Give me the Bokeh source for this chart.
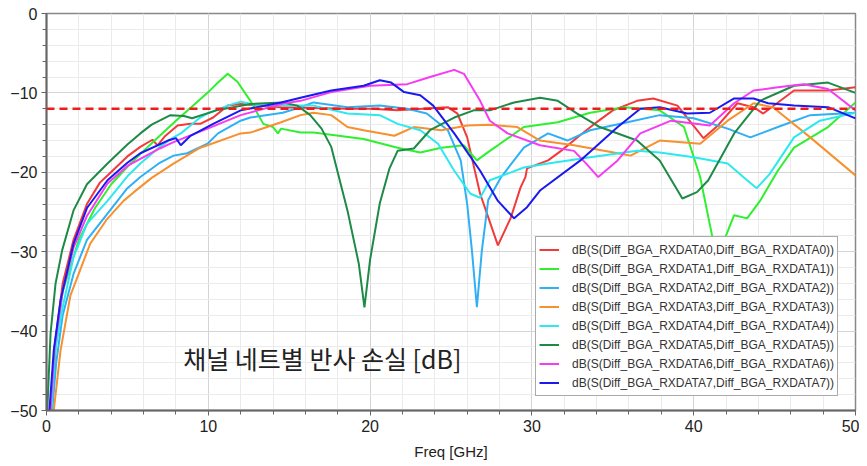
from bokeh.plotting import figure
from bokeh.models import Range1d, SingleIntervalTicker, Span, Label
from bokeh.embed import file_html
from bokeh.resources import INLINE

# ---------------- data ----------------
NAMES = [f"dB(S(Diff_BGA_RXDATA{i},Diff_BGA_RXDATA{i}))" for i in range(8)]
COLORS = ["#f23a3a", "#2ef02e", "#2fb0f5", "#f7902f", "#2be9ef", "#1e8a47", "#f53cf2", "#1a1af0"]

f0 = [0.3, 0.5, 1, 1.67, 2.5, 3.3, 3.77, 5, 5.8, 6.55, 6.86, 7.3, 8.1, 8.9, 9.5, 10.3, 11.2, 12, 14.5, 16.5,
      18.6, 20, 21.7, 24.8, 25.4, 26, 26.8, 27.9, 28.7, 29.3, 29.6, 29.7, 31, 31.8, 33, 33.8, 35, 36.5, 37.5, 39,
      40.6, 41.5, 42.7, 43.7, 44.3, 46.2, 48.3, 50]
s0 = [-50, -42, -34, -28.5, -24, -21.3, -20.4, -18, -16.8, -15.9, -16.6, -15.5, -14.1, -13.9, -13.9, -13.1, -11.6,
      -11.4, -11.8, -11.9, -12, -12, -12.2, -11.8, -12.6, -15.6, -22.7, -29.2, -25.7, -21.9, -20.6, -19.5, -18.5,
      -17.3, -15.3, -14, -12.2, -11, -10.7, -11.6, -15.7, -14.1, -11.3, -11.8, -12.6, -9.7, -9.7, -9.3]

f1 = [0.35, 0.6, 1, 2, 3, 4, 5, 6, 7, 8, 9, 10, 10.6, 11.2, 11.8, 12.6, 13.4, 14, 14.3, 14.5, 15.7, 16.5, 19.6,
      21.7, 23.1, 24.4, 25.8, 26.6, 27.4, 27.9, 29.5, 31.6, 33.6, 35.7, 37.9, 39.4, 40.4, 41.2, 41.6, 42.5, 43.3,
      44.1, 45.2, 46.2, 48.3, 50]
s1 = [-50, -41, -35, -28.5, -24.5, -21.5, -19.3, -17.3, -15.4, -13.5, -11.7, -9.9, -8.7, -7.6, -8.6, -11, -13.9,
      -14.3, -15.1, -14.5, -15, -15, -15.8, -16.9, -17.5, -16.9, -16.6, -18.5, -17.3, -16.6, -14.3, -13.7, -12.5,
      -11.8, -12.2, -14.3, -20.6, -28.6, -30, -25.4, -25.8, -23.6, -19.8, -16.9, -14.3, -11.2]

f2 = [0.35, 0.6, 1, 1.67, 2.5, 3.77, 5, 5.8, 7, 7.85, 8.7, 9.95, 10.6, 12, 12.6, 14.6, 15.7, 16.5, 18.6, 20.6,
      22.3, 23.5, 24.8, 25.6, 26, 26.3, 26.6, 26.9, 27.3, 28.1, 29.5, 31, 32.2, 33.6, 35.9, 37.9,
      40, 42.1, 43.5, 45.2, 47.2, 50]
s2 = [-50, -44, -38, -32.8, -28.5, -25.2, -22, -20.6, -18.8, -17.9, -17.6, -16.4, -15.1, -13.5, -13.1, -12.5,
      -11.8, -11.2, -11.8, -11.6, -12, -12.6, -14.7, -18.5, -24, -30, -37, -30, -23.5, -20.6, -16.9, -15.1, -16,
      -14.7, -13.7, -12.8, -13.2, -14.5, -15.6, -14.3, -12.8, -12.5]

f3 = [0.45, 0.87, 1.48, 2.7, 3.7, 4.76, 5.4, 6.5, 7.85, 9.5, 9.95, 12, 12.6, 14.5, 15.7, 16.5, 17.6, 18.6, 19.6,
      21.5, 22.7, 24.4, 26, 27.4, 29.1, 30.5, 32.6, 35.3, 36.1, 37.9, 40.4, 42.1, 43.7, 44.9, 47.2, 50]
s3 = [-50, -42.4, -35.5, -29, -26, -23.6, -22.5, -20.7, -18.9, -16.9, -16.6, -15.1, -15, -13.7, -12.8, -12.5,
      -12.8, -14.3, -14.7, -15.4, -14.3, -14.7, -14.1, -14, -14.3, -16, -16.6, -17.6, -17.9, -16, -16.4, -13.5,
      -11.3, -11.8, -15.6, -20.4]

f4 = [0.3, 0.5, 1, 1.67, 2.5, 3.77, 5, 5.8, 7, 7.85, 8.3, 8.9, 9.5, 9.95, 11.2, 12, 13.2, 15.7, 16.5, 18.6, 20.6,
      21.7, 23.1, 24.2, 25.2, 26.2, 26.8, 27.4, 29.5, 31, 33.6, 36.5, 37.9, 40, 42.1, 43.3, 43.9, 44.7, 46.2, 47.8,
      50]
s4 = [-50, -43, -37, -30.7, -26.5, -23.6, -20.5, -18.9, -16.8, -15.6, -15.1, -14.1, -13.1, -12.6, -11.6, -11.1,
      -11.6, -11.6, -11.6, -12.6, -12.8, -13.9, -14.7, -16.4, -19.8, -22.7, -23.2, -21, -19.4, -18.9, -18.1,
      -17.3, -17.5, -18.1, -18.9, -21, -22, -20.2, -15.6, -13.5, -12.5]

f5 = [0.05, 0.25, 0.56, 0.97, 1.67, 2.5, 3.77, 5, 5.8, 6.5, 7.66, 8.5, 9, 10.5, 12.6, 14.6, 15.5, 16.3, 17, 17.6,
      18.6, 19.3, 19.65, 20, 20.6, 21.2, 21.7, 22.7, 23.7, 25.2, 26.4, 27.4, 28.9, 30.5, 31.6, 32.8, 34.2, 36.5,
      37.9, 39.3, 40.2, 40.9, 42.5, 44.1, 46.2, 48.3, 50]
s5 = [-50, -40.3, -34, -29.8, -24.8, -21.5, -18.9, -16.5, -15.1, -14, -12.8, -12.9, -13.2, -12.2, -11.4, -11.2,
      -11.6, -12.8, -14.5, -16.8, -24.8, -31.5, -37, -31, -23.9, -19.5, -17.3, -17, -14.7, -13.1, -12.2, -12.2,
      -11.2, -10.6, -11, -12.6, -14.3, -16, -18.5, -23.3, -22.5, -21, -15.1, -11, -9.1, -8.7, -10]

f6 = [0.25, 0.5, 1, 1.67, 2.5, 3.77, 5, 5.8, 7, 7.85, 9.95, 12, 14.5, 15.7, 17.6, 20, 22.3, 23.7, 25.2, 25.8, 26.8,
      27.4, 28.5, 30.5, 32.6, 33.4, 34.1, 35.3, 36.7, 38.6, 41, 42.5, 43.7, 45.2, 46.8, 48.3, 50]
s6 = [-50, -42, -35, -29.5, -25.5, -21.4, -19.2, -18.3, -17, -16.2, -14.5, -12.8, -11.4, -11.0, -9.9, -9.1, -8.9,
      -8, -7.1, -7.6, -11, -13.5, -15.1, -16.6, -17.3, -19, -20.6, -18.5, -15.1, -13.5, -14.1, -11.3, -9.7, -9.3,
      -8.9, -9.5, -12.2]

f7 = [0.18, 0.45, 0.87, 1.67, 2.5, 3.77, 5, 5.8, 7.5, 8, 8.3, 8.9, 10.3, 12, 14.5, 15.7, 17.6, 19.6, 20.6, 21.3,
      22.1, 23.1, 23.9, 25.2, 26.8, 27.9, 28.9, 29.7, 30.5, 33, 35.3, 36.7, 37.9, 39.6, 41, 42.5, 43.7, 44.6,
      46.2, 48.3, 50]
s7 = [-50, -42.4, -36.1, -29, -24.5, -21, -18.8, -17.6, -16, -15.7, -16.6, -15.4, -13.9, -12.2, -11.2, -10.6,
      -9.7, -9.1, -8.4, -8.7, -9.9, -10.3, -11.6, -15.1, -19.8, -23.6, -25.8, -24.4, -22.3, -18.5, -14.3,
      -12, -11.8, -12.6, -12.5, -10.7, -10.7, -11.3, -11.6, -11.8, -13.2]

FREQS = [f0, f1, f2, f3, f4, f5, f6, f7]
SERIES = [s0, s1, s2, s3, s4, s5, s6, s7]
THRESHOLD_DB = -12
X_RANGE = (0, 50)
Y_RANGE = (-50, 0)
ANNOTATION = "채널 네트별 반사 손실 [dB]"

# ---------------- figure ----------------
p = figure(frame_width=809, frame_height=397, min_border_left=46, min_border_top=13,
           min_border_right=4, min_border_bottom=10,
           x_range=Range1d(*X_RANGE), y_range=Range1d(*Y_RANGE),
           output_backend="svg", toolbar_location=None, background_fill_color="white")

for ax in (p.xaxis[0], p.yaxis[0]):
    ax.ticker = SingleIntervalTicker(interval=10, num_minor_ticks=5)
    ax.axis_line_color = "#666666"
    ax.axis_line_width = 2
    ax.major_tick_line_color = "#666666"
    ax.minor_tick_line_color = "#666666"
    ax.major_tick_in = 0
    ax.major_tick_out = 5
    ax.minor_tick_in = 0
    ax.minor_tick_out = 4
    ax.major_label_text_font = "Liberation Sans"
    ax.major_label_text_font_size = "16px"
    ax.major_label_text_color = "#222222"
    ax.major_label_standoff = 4

p.xaxis.axis_label = "Freq [GHz]"
p.xaxis.axis_label_text_font = "Liberation Sans"
p.xaxis.axis_label_text_font_size = "15px"
p.xaxis.axis_label_text_font_style = "normal"
p.xaxis.axis_label_text_color = "#222222"
p.xaxis.axis_label_standoff = 8

p.xgrid.grid_line_color = "#d4d4d4"
p.ygrid.grid_line_color = "#d4d4d4"
p.xgrid.minor_grid_line_color = "#ebebeb"
p.ygrid.minor_grid_line_color = "#ebebeb"
p.outline_line_color = "#888888"
p.outline_line_width = 1.5

for name, color, fx, sy in zip(NAMES, COLORS, FREQS, SERIES):
    p.line(fx, sy, line_color=color, line_width=2, legend_label=name)

p.add_layout(Span(location=THRESHOLD_DB, dimension="width", line_color="#ee1c1c",
                  line_width=2.5, line_dash="8 5"))

p.add_layout(Label(x=8.45, y=-43.4, text=ANNOTATION, text_font="Noto Sans CJK KR",
                   text_font_size="25px", text_color="#222222", text_baseline="middle",
                   text_align="left"))

lg = p.legend[0]
lg.location = (489, 14)
lg.padding = 3
lg.spacing = 0
lg.margin = 0
lg.label_height = 19
lg.glyph_height = 19
lg.glyph_width = 20
lg.label_standoff = 13
lg.label_text_font = "Liberation Sans"
lg.label_text_font_size = "12px"
lg.label_text_color = "#333333"
lg.border_line_color = "#555555"
lg.border_line_width = 1
lg.background_fill_alpha = 1

open("out.html", "w").write(file_html(p, INLINE))
